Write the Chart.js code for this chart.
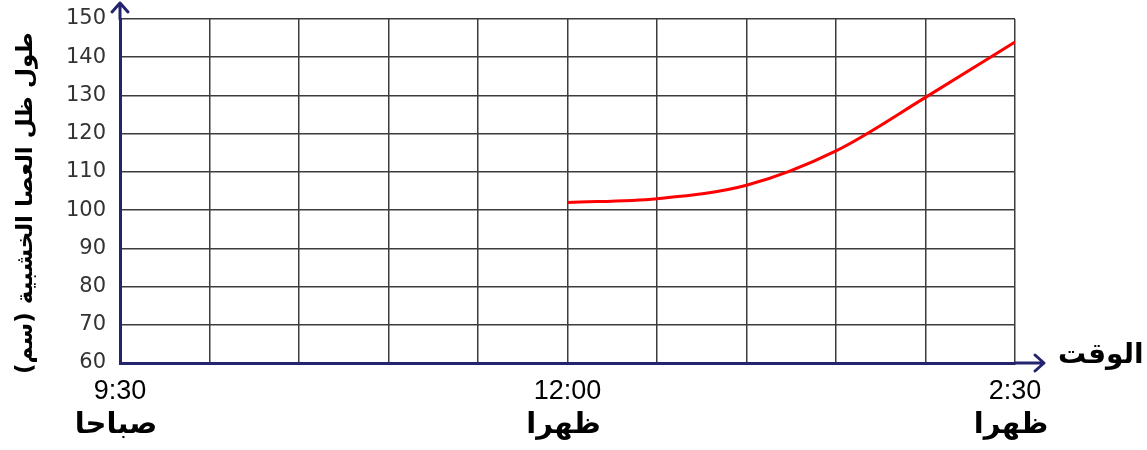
<!DOCTYPE html>
<html>
<head>
<meta charset="utf-8">
<script src="https://cdn.jsdelivr.net/npm/chart.js@4/dist/chart.umd.min.js"></script>
<style>
  html, body { margin: 0; background: #fff; }
</style>
</head>
<body>
<canvas id="shadowChart" width="1147" height="450"></canvas>
<script>
// minutes counted from 9:30 in the morning
const minutes = [150, 180, 210, 240, 270, 300];
const shadowLength = [102, 103, 106.5, 115.5, 129.5, 144];

const tickMinutes = [0, 150, 300];
const tickTimes = ['9:30', '12:00', '2:30'];
const tickPeriods = ['صباحا', 'ظهرا', 'ظهرا'];

const yTitle = 'طول ظل العصا الخشبية (سم)';
const xTitle = 'الوقت';

const navy = '#23236e';
const arabicFont = 'bold 29px "DejaVu Sans"';

// arrows on the axes, the second line under the time ticks and both titles
const decorations = {
  id: 'decorations',
  afterDraw(chart) {
    const ctx = chart.ctx;
    const area = chart.chartArea;
    const x = chart.scales.x;

    ctx.save();
    ctx.strokeStyle = navy;
    ctx.lineWidth = 3;
    ctx.lineCap = 'round';
    ctx.lineJoin = 'round';

    // y axis arrow
    ctx.beginPath();
    ctx.moveTo(area.left, area.top);
    ctx.lineTo(area.left, area.top - 16);
    ctx.moveTo(area.left - 8, area.top - 7);
    ctx.lineTo(area.left, area.top - 16);
    ctx.lineTo(area.left + 8, area.top - 7);
    ctx.stroke();

    // x axis arrow
    ctx.beginPath();
    ctx.moveTo(area.right, area.bottom);
    ctx.lineTo(area.right + 29, area.bottom);
    ctx.moveTo(area.right + 20, area.bottom - 8);
    ctx.lineTo(area.right + 29, area.bottom);
    ctx.lineTo(area.right + 20, area.bottom + 8);
    ctx.stroke();

    ctx.fillStyle = '#000';
    ctx.font = arabicFont;
    ctx.direction = 'rtl';
    ctx.textAlign = 'center';
    ctx.textBaseline = 'middle';

    tickMinutes.forEach((m, i) => {
      ctx.fillText(tickPeriods[i], x.getPixelForValue(m) - 4, area.bottom + 62);
    });

    ctx.font = 'bold 28px "DejaVu Sans"';
    ctx.textAlign = 'left';
    ctx.fillText(xTitle, area.right + 43, area.bottom - 7);

    ctx.font = 'bold 23px "DejaVu Sans"';
    ctx.textAlign = 'center';
    ctx.translate(26, (area.top + area.bottom) / 2 + 12);
    ctx.rotate(-Math.PI / 2);
    ctx.fillText(yTitle, 0, 0);
    ctx.restore();
  }
};

const ctx = document.getElementById('shadowChart');
const chart = new Chart(ctx, {
  type: 'line',
  data: {
    datasets: [{
      data: minutes.map((m, i) => ({ x: m, y: shadowLength[i] })),
      borderColor: '#ff0000',
      borderWidth: 3,
      pointRadius: 0,
      fill: false,
      cubicInterpolationMode: 'monotone'
    }]
  },
  options: {
    responsive: false,
    animation: false,
    layout: { padding: { top: 19, right: 132, left: 0, bottom: 0 } },
    plugins: {
      legend: { display: false },
      tooltip: { enabled: false }
    },
    scales: {
      x: {
        type: 'linear',
        min: 0,
        max: 300,
        afterFit: (scale) => {
          scale.height = 87;
          scale.paddingLeft = 0;
          scale.paddingRight = 0;
        },
        afterBuildTicks: (scale) => {
          scale.ticks = [];
          for (let v = 0; v <= 300; v += 30) scale.ticks.push({ value: v });
        },
        ticks: {
          autoSkip: false,
          maxRotation: 0,
          padding: 12,
          color: '#000',
          font: { family: 'Liberation Sans', size: 27 },
          callback: (v) => {
            const i = tickMinutes.indexOf(v);
            return i >= 0 ? tickTimes[i] : '';
          }
        },
        grid: { color: '#3c3c3c', lineWidth: 1.5, drawTicks: false },
        border: { color: navy, width: 3 }
      },
      y: {
        min: 60,
        max: 150,
        afterFit: (scale) => {
          scale.width = 120;
          scale.paddingTop = 0;
          scale.paddingBottom = 0;
        },
        ticks: {
          stepSize: 10,
          padding: 14,
          color: '#333',
          font: { family: 'DejaVu Sans', size: 21 }
        },
        grid: { color: '#3c3c3c', lineWidth: 1.5, drawTicks: false },
        border: { color: navy, width: 3 }
      }
    }
  },
  plugins: [decorations]
});
</script>
</body>
</html>
